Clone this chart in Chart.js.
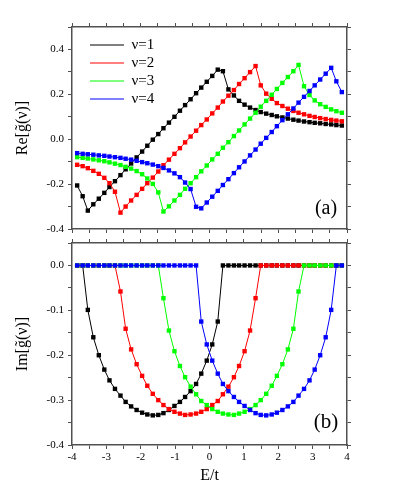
<!DOCTYPE html>
<html>
<head>
<meta charset="utf-8">
<script src="https://cdn.jsdelivr.net/npm/chart.js@4.4.1/dist/chart.umd.min.js"></script>
<style>
html,body{margin:0;padding:0;background:#ffffff;}
#wrap{position:relative;width:395px;height:499px;overflow:hidden;}
#wrap canvas{position:absolute;left:0;top:0;}
</style>
</head>
<body>
<div id="wrap">
<canvas id="panelA" width="395" height="499"></canvas>
<canvas id="panelB" width="395" height="499"></canvas>
</div>
<script>
// ---------- data ----------
const E = [-3.85,-3.69,-3.54,-3.38,-3.22,-3.06,-2.91,-2.75,-2.59,-2.44,
           -2.28,-2.12,-1.96,-1.81,-1.65,-1.49,-1.34,-1.18,-1.02,-0.86,
           -0.71,-0.55,-0.39,-0.24,-0.08,0.08,0.24,0.39,0.55,0.71,
           0.86,1.02,1.18,1.34,1.49,1.65,1.81,1.96,2.12,2.28,
           2.44,2.59,2.75,2.91,3.06,3.22,3.38,3.54,3.69,3.85];

const seriesLabels = ['\u03BD=1','\u03BD=2','\u03BD=3','\u03BD=4'];

const reNu1 = [-0.206,-0.254,-0.318,-0.290,-0.265,-0.239,-0.213,-0.187,-0.160,-0.134,
               -0.108,-0.081,-0.055,-0.029,-0.002,0.023,0.049,0.074,0.100,0.127,
               0.152,0.178,0.205,0.230,0.256,0.282,0.310,0.303,0.222,0.195,
               0.171,0.154,0.141,0.130,0.121,0.114,0.108,0.102,0.097,0.092,
               0.087,0.083,0.079,0.076,0.073,0.071,0.068,0.066,0.063,0.061];
const reNu2 = [-0.114,-0.120,-0.129,-0.141,-0.154,-0.172,-0.196,-0.234,-0.327,-0.300,
               -0.273,-0.248,-0.221,-0.196,-0.171,-0.144,-0.116,-0.091,-0.065,-0.040,
               -0.014,0.012,0.038,0.063,0.088,0.115,0.141,0.168,0.194,0.219,
               0.246,0.272,0.299,0.326,0.240,0.203,0.180,0.161,0.148,0.136,
               0.126,0.118,0.111,0.104,0.099,0.094,0.090,0.086,0.083,0.080];
const reNu3 = [-0.080,-0.083,-0.086,-0.090,-0.094,-0.098,-0.103,-0.109,-0.115,-0.123,
               -0.131,-0.142,-0.156,-0.175,-0.199,-0.237,-0.322,-0.299,-0.273,-0.248,
               -0.221,-0.196,-0.169,-0.143,-0.117,-0.090,-0.065,-0.038,-0.013,0.014,
               0.039,0.066,0.092,0.118,0.145,0.171,0.198,0.224,0.251,0.277,
               0.303,0.331,0.236,0.197,0.173,0.156,0.144,0.133,0.125,0.118];
const reNu4 = [-0.062,-0.065,-0.067,-0.069,-0.072,-0.074,-0.077,-0.080,-0.083,-0.087,
               -0.091,-0.096,-0.102,-0.107,-0.113,-0.120,-0.128,-0.139,-0.152,-0.169,
               -0.193,-0.222,-0.301,-0.308,-0.282,-0.256,-0.230,-0.204,-0.178,-0.151,
               -0.125,-0.099,-0.072,-0.046,-0.020,0.006,0.032,0.058,0.085,0.111,
               0.137,0.163,0.189,0.215,0.240,0.266,0.292,0.318,0.258,0.210];

const imNu1 = [0,0,-0.099,-0.160,-0.200,-0.232,-0.256,-0.275,-0.290,-0.304,
               -0.314,-0.322,-0.328,-0.332,-0.334,-0.333,-0.329,-0.322,-0.313,-0.304,
               -0.293,-0.280,-0.264,-0.241,-0.212,-0.176,-0.125,0,0,0,
               0,0,0,0,0,0,0,0,0,0,
               0,0,0,0,0,0,0,0,0,0];
const imNu2 = [0,0,0,0,0,0,0,0,-0.058,-0.141,
               -0.187,-0.220,-0.246,-0.268,-0.286,-0.300,-0.311,-0.320,-0.326,-0.330,
               -0.333,-0.332,-0.330,-0.326,-0.320,-0.311,-0.302,-0.287,-0.270,-0.249,
               -0.224,-0.191,-0.145,-0.073,0,0,0,0,0,0,
               0,0,0,0,0,0,0,0,0,0];
const imNu3 = [0,0,0,0,0,0,0,0,0,0,
               0,0,0,0,0,0,-0.073,-0.145,-0.191,-0.224,
               -0.249,-0.270,-0.287,-0.302,-0.311,-0.320,-0.326,-0.330,-0.332,-0.333,
               -0.330,-0.326,-0.320,-0.311,-0.300,-0.286,-0.268,-0.246,-0.220,-0.187,
               -0.141,-0.058,0,0,0,0,0,0,0,0];
const imNu4 = [0,0,0,0,0,0,0,0,0,0,
               0,0,0,0,0,0,0,0,0,0,
               0,0,0,-0.125,-0.176,-0.212,-0.241,-0.264,-0.280,-0.293,
               -0.304,-0.313,-0.322,-0.329,-0.333,-0.334,-0.332,-0.328,-0.322,-0.314,
               -0.304,-0.290,-0.275,-0.256,-0.232,-0.200,-0.160,-0.099,0,0];

const xTickValues = [-4,-3,-2,-1,0,1,2,3,4];
const xTickLabels = ['-4','-3','-2','-1','0','1','2','3','4'];
const reTickValues = [-0.4,-0.2,0.0,0.2,0.4];
const reTickLabels = ['-0.4','-0.2','0.0','0.2','0.4'];
const imTickValues = [-0.4,-0.3,-0.2,-0.1,0.0];
const imTickLabels = ['-0.4','-0.3','-0.2','-0.1','0.0'];

const xTitle = 'E/t';
const reTitle = 'Re[g\u0303(\u03BD)]';
const imTitle = 'Im[g\u0303(\u03BD)]';
const panelTags = ['(a)','(b)'];

// ---------- styles ----------
const COLORS = ['#000000','#ff0000','#00ff00','#0000ff'];
const FRAME = '#505050';
const SERIF = "'Liberation Serif', 'Times New Roman', serif";

Chart.defaults.font.family = SERIF;
Chart.defaults.color = '#000';

function makeAxis(position, min, max, step, size, labelValues, labelTexts, title) {
  const isX = position === 'top' || position === 'bottom';
  const a = {
    type: 'linear', position: position, min: min, max: max,
    border: {display: true, color: FRAME, width: 1.5},
    grid: {drawOnChartArea: false, drawTicks: true, tickLength: 4, color: FRAME, lineWidth: 1},
    ticks: {
      stepSize: step, autoSkip: false, maxRotation: 0, minRotation: 0,
      padding: isX ? 2 : 4, color: '#000', font: {family: SERIF, size: 11},
      callback: function (v) {
        if (!labelValues) return '';
        const i = labelValues.findIndex(t => Math.abs(t - v) < 1e-6);
        return i >= 0 ? labelTexts[i] : '';
      }
    },
    afterFit: isX ? function (s) { s.height = size; } : function (s) { s.width = size; }
  };
  if (title) a.title = title;
  return a;
}

function makeDatasets(arrays) {
  return arrays.map((arr, i) => ({
    label: seriesLabels[i],
    data: arr.map((v, k) => ({x: E[k], y: v})),
    borderColor: COLORS[i],
    backgroundColor: COLORS[i],
    pointBackgroundColor: COLORS[i],
    borderWidth: 1,
    pointStyle: 'rect',
    pointRadius: 3.1,
    pointBorderWidth: 0,
    tension: 0,
    order: 4 - i,
    xAxisID: 'x', yAxisID: 'y'
  }));
}

const tagPlugin = {
  id: 'panelTag',
  afterDraw(chart, args, opts) {
    const ctx = chart.ctx;
    ctx.save();
    ctx.font = opts.size + 'px ' + SERIF;
    ctx.fillStyle = '#000';
    ctx.textAlign = 'center';
    ctx.textBaseline = 'middle';
    ctx.fillText(opts.text, chart.scales.x.getPixelForValue(opts.x), chart.scales.y.getPixelForValue(opts.y));
    ctx.restore();
  }
};

const legendPlacer = {
  id: 'legendPlacer',
  afterLayout(chart, args, opts) {
    const lg = chart.legend;
    if (!lg || !opts || !opts.enabled) return;
    const w = lg.width, h = 200;
    lg.left = opts.left; lg.top = opts.top;
    lg.right = opts.left + w; lg.bottom = opts.top + h;
  }
};

// ---------- panel (a): real part ----------
new Chart(document.getElementById('panelA'), {
  type: 'line',
  data: {datasets: makeDatasets([reNu1, reNu2, reNu3, reNu4])},
  options: {
    responsive: false, animation: false, devicePixelRatio: 1,
    layout: {padding: {left: 0, right: 0, top: 0, bottom: 262}},
    scales: {
      x: makeAxis('bottom', -4, 4, 0.5, 8, null, null),
      x2: makeAxis('top', -4, 4, 0.5, 27, null, null),
      y: makeAxis('left', -0.4, 0.5, 0.1, 72, reTickValues, reTickLabels,
        {display: true, text: reTitle, color: '#000', font: {family: SERIF, size: 16}, padding: {top: 13, bottom: 0}}),
      y2: makeAxis('right', -0.4, 0.5, 0.1, 48, null, null)
    },
    plugins: {
      legend: {
        display: true, position: 'chartArea', align: 'start',
        labels: {
          usePointStyle: true, pointStyle: 'line', pointStyleWidth: 34,
          padding: 3, color: '#000', font: {family: SERIF, size: 15},
          generateLabels: () => seriesLabels.map((t, i) => ({
            text: t, fillStyle: COLORS[i], strokeStyle: COLORS[i], lineWidth: 1,
            pointStyle: 'line', hidden: false, datasetIndex: i, fontColor: '#000'
          }))
        }
      },
      tooltip: {enabled: false},
      legendPlacer: {enabled: true, left: 87, top: 34.5},
      panelTag: {text: panelTags[0], x: 3.39, y: -0.309, size: 20}
    }
  },
  plugins: [legendPlacer, tagPlugin]
});

// ---------- panel (b): imaginary part ----------
new Chart(document.getElementById('panelB'), {
  type: 'line',
  data: {datasets: makeDatasets([imNu1, imNu2, imNu3, imNu4])},
  options: {
    responsive: false, animation: false, devicePixelRatio: 1,
    layout: {padding: {left: 0, right: 0, top: 235, bottom: 14}},
    scales: {
      x: makeAxis('bottom', -4, 4, 0.5, 40, xTickValues, xTickLabels,
        {display: true, text: xTitle, color: '#000', font: {family: SERIF, size: 16}, padding: {top: 0, bottom: 0}}),
      x2: makeAxis('top', -4, 4, 0.5, 8, null, null),
      y: makeAxis('left', -0.4, 0.05, 0.05, 72, imTickValues, imTickLabels,
        {display: true, text: imTitle, color: '#000', font: {family: SERIF, size: 16}, padding: {top: 13, bottom: 0}}),
      y2: makeAxis('right', -0.4, 0.05, 0.05, 48, null, null)
    },
    plugins: {
      legend: {display: false},
      tooltip: {enabled: false},
      legendPlacer: {enabled: false},
      panelTag: {text: panelTags[1], x: 3.39, y: -0.349, size: 21}
    }
  },
  plugins: [legendPlacer, tagPlugin]
});
</script>
</body>
</html>
